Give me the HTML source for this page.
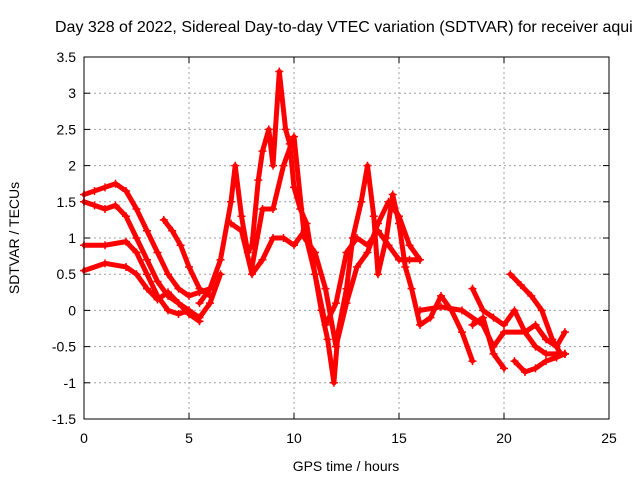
<!DOCTYPE html>
<html><head><meta charset="utf-8"><style>
body{margin:0;background:#fff;}
svg{display:block;font-family:"Liberation Sans",sans-serif;}
</style></head><body>
<svg id="chart" width="640" height="480">
<text x="55" y="32" font-size="16">Day 328 of 2022, Sidereal Day-to-day VTEC variation (SDTVAR) for receiver aqui</text>
<g id="grid"></g>
<g id="axes"></g>
<g id="series"></g>
<rect x="84" y="57" width="525" height="362" fill="none" stroke="#000"/>
<text x="346" y="471" font-size="14" text-anchor="middle">GPS time / hours</text>
<text transform="translate(19,238) rotate(-90)" font-size="14" text-anchor="middle">SDTVAR / TECUs</text>
</svg>
<script>
const xTicks=[0,5,10,15,20,25];
const yTicks=[3.5,3,2.5,2,1.5,1,0.5,0,-0.5,-1,-1.5];
const yTickLabels=["3.5","3","2.5","2","1.5","1","0.5","0","-0.5","-1","-1.5"];
const traceA=[[0,1.6],[0.5,1.65],[1,1.7],[1.5,1.75],[2,1.65],[2.5,1.4],[3,1.1],[3.5,0.8],[4,0.5],[4.5,0.3],[5,0.2],[5.5,0.25],[6,0.3]];
const traceB=[[0,1.5],[0.5,1.45],[1,1.4],[1.5,1.45],[2,1.3],[2.5,1.0],[3,0.7],[3.5,0.4],[4,0.2],[4.5,0.1],[5,0.0],[5.5,-0.1],[6,0.1],[6.5,0.5]];
const traceC=[[0,0.9],[1,0.9],[2,0.95],[2.5,0.8],[3,0.5],[3.5,0.2],[4,0.0],[4.5,-0.05],[5,0.0]];
const traceD=[[0,0.55],[1,0.65],[2,0.6],[2.5,0.5],[3,0.3],[3.5,0.15],[4,0.25],[4.5,0.1],[5,-0.05],[5.5,-0.15]];
const traceE=[[3.8,1.25],[4.2,1.1],[4.6,0.9],[5,0.6],[5.5,0.3],[6,0.2]];
const traceF=[[5.5,0.1],[6,0.3],[6.5,0.7],[7,1.5],[7.2,2.0],[7.5,1.3],[7.8,0.8],[8,0.9],[8.3,1.8],[8.5,2.2],[8.8,2.5],[9,2.0],[9.3,3.3],[9.6,2.5],[9.8,2.3],[10,1.7],[10.3,1.4],[10.6,1.2],[11,0.5],[11.3,0.0],[11.6,-0.4],[11.9,-1.0],[12.1,-0.3],[12.5,0.3],[12.8,1.0],[13.2,1.5],[13.5,2.0],[13.8,1.3],[14,0.5],[14.4,1.0],[14.7,1.6],[15,1.2],[15.3,0.6],[15.6,0.3],[16,-0.2],[16.5,-0.1],[17,0.2],[17.5,0.0],[18,-0.3],[18.5,-0.7]];
const traceG=[[7,1.2],[7.5,1.1],[8,0.5],[8.5,0.7],[9,1.0],[9.5,1.0],[10,0.9],[10.5,1.1],[11,0.5],[11.5,-0.2],[12,0.1],[12.5,0.8],[13,1.0],[13.5,0.9],[14,1.1],[14.5,0.9],[15,0.7],[15.5,0.7],[16,0.7]];
const traceH=[[8,0.6],[8.5,1.4],[9,1.4],[9.5,2.0],[10,2.4],[10.5,1.0],[11,0.8],[11.5,0.3],[12,-0.5],[12.5,0.1],[13,0.6],[13.5,0.8],[14,1.2],[14.5,1.5],[15,1.3],[15.5,0.9],[16,0.7]];
const traceI=[[16,0.0],[17,0.05],[18,0.0],[19,-0.2],[19.5,-0.5],[20,-0.3],[21,-0.3],[21.5,-0.5],[22,-0.6],[22.9,-0.6]];
const traceJ=[[18.5,0.3],[19,0.0],[19.5,-0.1],[20,-0.2],[20.5,0.0],[21,-0.3],[21.5,-0.2],[22,-0.4],[22.5,-0.5],[22.9,-0.3]];
const traceK=[[20.3,0.5],[20.8,0.35],[21.3,0.2],[21.8,0.0],[22.3,-0.4],[22.7,-0.6],[22.9,-0.6]];
const traceL=[[20.5,-0.7],[21,-0.85],[21.5,-0.8],[22,-0.7],[22.5,-0.65],[22.9,-0.6]];
const traceM=[[18.5,-0.2],[19,-0.1],[19.5,-0.6],[20,-0.8]];
const traces=[traceA,traceB,traceC,traceD,traceE,traceF,traceG,traceH,traceI,traceJ,traceK,traceL,traceM];

const X0=84,X1=609,Y0=419,Y1=57,xmin=0,xmax=25,ymin=-1.5,ymax=3.5;
const sx=v=>X0+(v-xmin)/(xmax-xmin)*(X1-X0);
const sy=v=>Y0-(v-ymin)/(ymax-ymin)*(Y0-Y1);
const NS="http://www.w3.org/2000/svg";
function mk(tag,attrs,parent){const e=document.createElementNS(NS,tag);for(const k in attrs)e.setAttribute(k,attrs[k]);parent.appendChild(e);return e;}
const grid=document.getElementById('grid'),axes=document.getElementById('axes'),series=document.getElementById('series');
xTicks.forEach((t,i)=>{const x=sx(t);
 if(i>0&&i<xTicks.length-1){const g=mk('line',{x1:x,x2:x,y1:Y1,y2:Y0,stroke:'#a0a0a0','stroke-dasharray':'2,3'},grid);
 
 }
 mk('line',{x1:x,x2:x,y1:Y0,y2:Y0-6,stroke:'#000'},axes);
 mk('line',{x1:x,x2:x,y1:Y1,y2:Y1+6,stroke:'#000'},axes);
 const tx=mk('text',{x:x,y:Y0+24,'font-size':14,'text-anchor':'middle'},axes);tx.textContent=t;
 
 
});
yTicks.forEach((t,i)=>{const y=sy(t);
 if(i>0&&i<yTicks.length-1){const g=mk('line',{x1:X0,x2:X1,y1:y,y2:y,stroke:'#a0a0a0','stroke-dasharray':'2,3'},grid);
 
 }
 mk('line',{x1:X0,x2:X0+6,y1:y,y2:y,stroke:'#000'},axes);
 mk('line',{x1:X1,x2:X1-6,y1:y,y2:y,stroke:'#000'},axes);
 const tx=mk('text',{x:X0-8,y:y+5,'font-size':14,'text-anchor':'end'},axes);tx.textContent=yTickLabels[i];
 
 
});
traces.forEach((tr,k)=>{
 const pts=tr.map(p=>sx(p[0])+','+sy(p[1])).join(' ');
 const pl=mk('polyline',{points:pts,fill:'none',stroke:'#ff0000','stroke-width':5,'stroke-linejoin':'round','stroke-linecap':'round'},series);
 
 
 let d='';tr.forEach(p=>{const x=sx(p[0]),y=sy(p[1]);d+=`M${x-4},${y}h8M${x},${y-4}v8`;});
 const m=mk('path',{d:d,stroke:'#ff0000','stroke-width':1.5},series);
 
 
});
</script>
</body></html>
